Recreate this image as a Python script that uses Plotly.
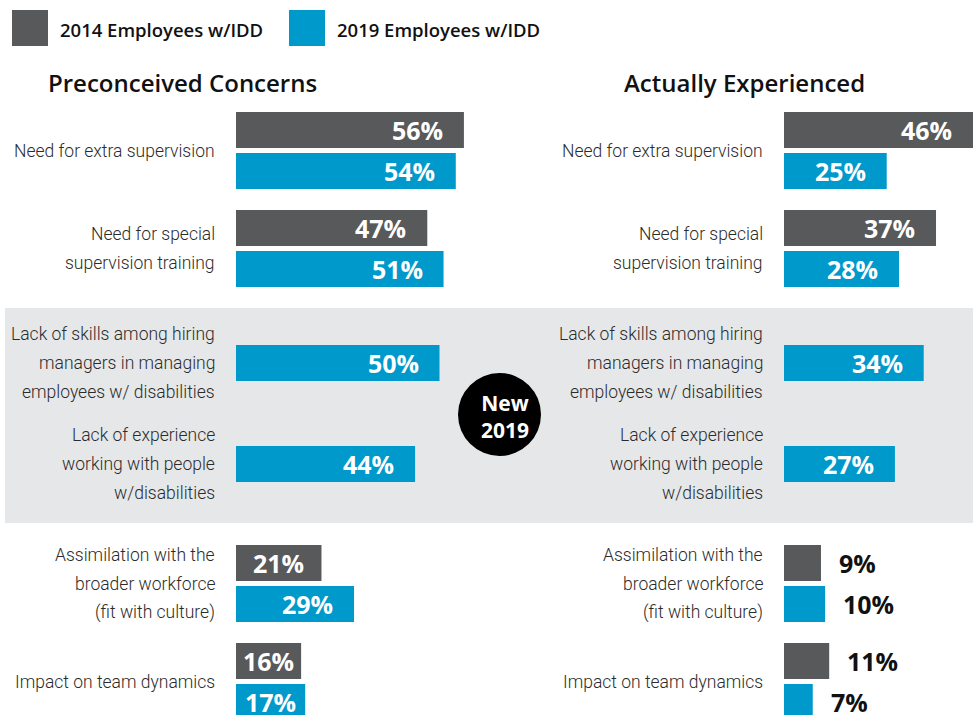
import plotly.graph_objects as go

# ---------------- data ----------------
concerns = [
    ["Need for extra supervision"],
    ["Need for special", "supervision training"],
    ["Lack of skills among hiring", "managers in managing", "employees w/ disabilities"],
    ["Lack of experience", "working with people", "w/disabilities"],
    ["Assimilation with the", "broader workforce", "(fit with culture)"],
    ["Impact on team dynamics"],
]
pre_2014 = [56, 47, None, None, 21, 16]
pre_2019 = [54, 51, 50, 44, 29, 17]
exp_2014 = [46, 37, None, None, 9, 11]
exp_2019 = [25, 28, 34, 27, 10, 7]
series_names = ["2014 Employees w/IDD", "2019 Employees w/IDD"]
panel_titles = ["Preconceived Concerns", "Actually Experienced"]
badge_text = "New<br>2019"

# ---------------- layout / style ----------------
W, H = 973, 715
GRAY = "#58595b"
BLUE = "#0099cc"
BAND = "#e6e7e8"
TXT = "#2b2b2b"
group_centers = [150.5, 248.5, 363, 464, 583.5, 681.5]   # vertical slot of each concern (layout units = px)
pair_off = 20.5
bar_h = 36
line_step = 29
left_start, left_scale, left_max = 236, 4.07, 58
right_start, right_max = 784, 46
label_gap = 19
BOLD = "Open Sans"
COND = "Roboto"

fig = go.Figure()

def add_panel(v14, v19, xname):
    ys14, xs14, ys19, xs19 = [], [], [], []
    for c, a, b in zip(group_centers, v14, v19):
        if a is None:
            ys19.append(c); xs19.append(b)
        else:
            ys14.append(c - pair_off); xs14.append(a)
            ys19.append(c + pair_off); xs19.append(b)
    fig.add_trace(go.Bar(x=xs14, y=ys14, orientation="h", width=bar_h, marker_color=GRAY,
                         marker_line_width=0, name=series_names[0], xaxis=xname, yaxis="y",
                         showlegend=False, hoverinfo="x"))
    fig.add_trace(go.Bar(x=xs19, y=ys19, orientation="h", width=bar_h, marker_color=BLUE,
                         marker_line_width=0, name=series_names[1], xaxis=xname, yaxis="y",
                         showlegend=False, hoverinfo="x"))
    return list(zip(ys14, xs14)) + list(zip(ys19, xs19))

left_bars = add_panel(pre_2014, pre_2019, "x")
right_bars = add_panel(exp_2014, exp_2019, "x2")

right_scale = (W - right_start) / right_max
annotations = []

def value_labels(bars, xref, scale):
    for y, v in bars:
        px = v * scale
        txt = f"{v}%"
        if px < 60:
            annotations.append(dict(x=v, y=y, xref=xref, yref="y", text=txt, showarrow=False,
                                    xanchor="left", yanchor="middle", xshift=16,
                                    font=dict(family=BOLD, size=25, color="#111111", weight="bold")))
        elif px < 95:
            annotations.append(dict(x=v / 2, y=y, xref=xref, yref="y", text=txt, showarrow=False,
                                    xanchor="center", yanchor="middle",
                                    font=dict(family=BOLD, size=25, color="white", weight="bold")))
        else:
            annotations.append(dict(x=v, y=y, xref=xref, yref="y", text=txt, showarrow=False,
                                    xanchor="right", yanchor="middle", xshift=-19,
                                    font=dict(family=BOLD, size=25, color="white", weight="bold")))

value_labels(left_bars, "x", left_scale)
value_labels(right_bars, "x2", right_scale)

# category labels (one annotation per line to keep the reference line spacing)
for start in (left_start, right_start):
    for c, lines in zip(group_centers, concerns):
        n = len(lines)
        for i, ln in enumerate(lines):
            annotations.append(dict(x=(start - label_gap) / W, y=c + (i - (n - 1) / 2) * line_step,
                                    xref="paper", yref="y", text=ln,
                                    showarrow=False, xanchor="right", yanchor="middle", align="right",
                                    font=dict(family=COND, size=17.5, color=TXT, weight=300)))

# panel titles
for xpos, t in zip((46, 622), panel_titles):
    annotations.append(dict(x=xpos / W, y=82, xref="paper", yref="y", text=t, showarrow=False,
                            xanchor="left", yanchor="middle",
                            font=dict(family=BOLD, size=24, color="#111111", weight=600)))

# legend
shapes = []
for (sx, col), name in zip(((12, GRAY), (289, BLUE)), series_names):
    shapes.append(dict(type="rect", xref="paper", yref="y", x0=sx / W, x1=(sx + 36) / W, y0=10, y1=46,
                       fillcolor=col, line_width=0))
    annotations.append(dict(x=(sx + 46) / W, y=29, xref="paper", yref="y", text=name, showarrow=False,
                            xanchor="left", yanchor="middle",
                            font=dict(family=BOLD, size=18.5, color="#111111", weight=600)))

# gray band behind the new-in-2019 items
shapes.append(dict(type="rect", xref="paper", yref="y", x0=5 / W, x1=1, y0=308, y1=523,
                   fillcolor=BAND, line_width=0, layer="below"))
# badge
shapes.append(dict(type="circle", xref="paper", yref="y", x0=458 / W, x1=541 / W, y0=373, y1=456,
                   fillcolor="black", line_width=0))
annotations.append(dict(x=505 / W, y=416, xref="paper", yref="y", text=badge_text, showarrow=False,
                        xanchor="center", yanchor="middle",
                        font=dict(family=BOLD, size=21, color="white", weight="bold")))

fig.update_layout(
    width=W, height=H,
    margin=dict(l=0, r=0, t=0, b=0),
    paper_bgcolor="white", plot_bgcolor="rgba(0,0,0,0)",
    barmode="overlay",
    xaxis=dict(domain=[left_start / W, (left_start + left_scale * left_max) / W], range=[0, left_max],
               visible=False, fixedrange=True),
    xaxis2=dict(domain=[right_start / W, 1], range=[0, right_max], visible=False, anchor="y",
                fixedrange=True),
    yaxis=dict(domain=[0, 1], range=[H, 0], visible=False, fixedrange=True),
    annotations=annotations,
    shapes=shapes,
    showlegend=False,
)

fig.write_html("out.html", config={"displayModeBar": False},
               post_script="document.body.style.margin='0';document.body.style.overflow='hidden';")
